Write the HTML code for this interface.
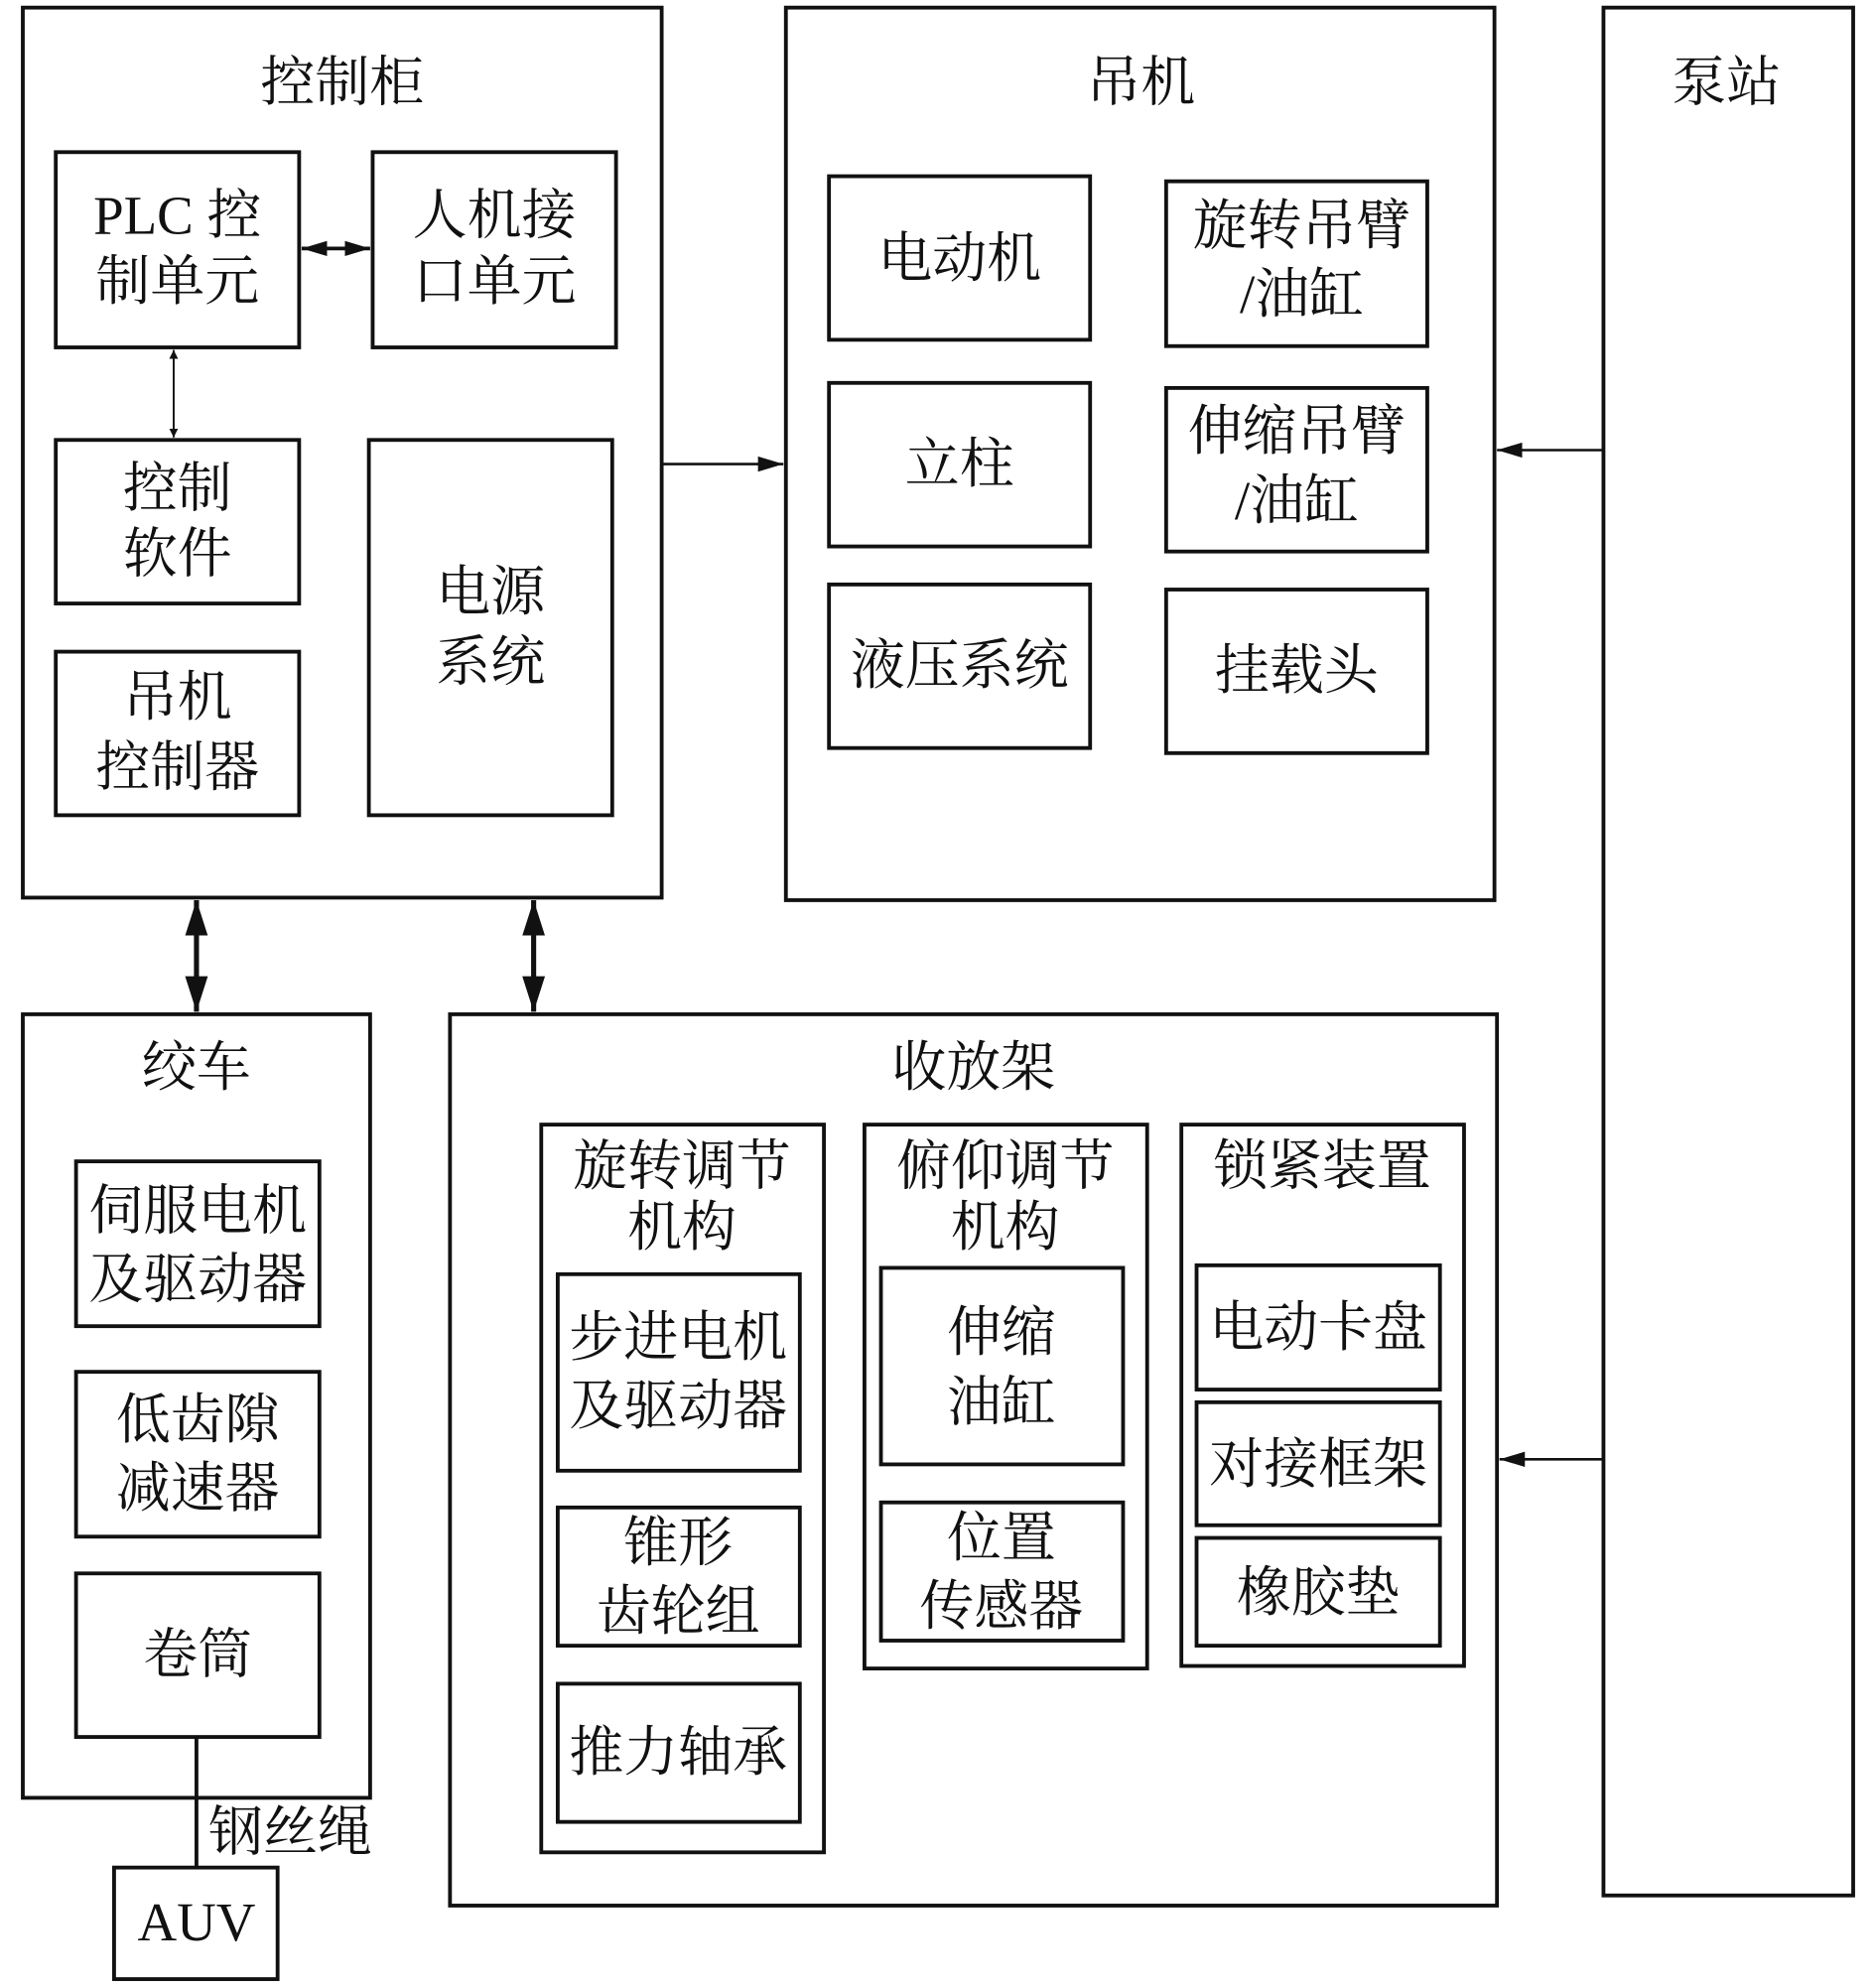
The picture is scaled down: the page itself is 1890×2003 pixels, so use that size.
<!DOCTYPE html>
<html><head><meta charset="utf-8"><style>html,body{margin:0;padding:0;background:#fff}svg{display:block}</style></head>
<body>
<svg width="1890" height="2003" viewBox="0 0 1480 1568" preserveAspectRatio="none" xmlns="http://www.w3.org/2000/svg">
<defs>
<marker id="a" viewBox="0 0 10 10" refX="10" refY="5" markerWidth="7" markerHeight="7" markerUnits="userSpaceOnUse" orient="auto-start-reverse"><path d="M0,0L10,5L0,10z" fill="#111"/></marker>
<marker id="b" viewBox="0 0 10 10" refX="10" refY="5" markerWidth="20" markerHeight="20" orient="auto-start-reverse" markerUnits="userSpaceOnUse"><path d="M0,2L10,5L0,8z" fill="#111"/></marker>
<marker id="c" viewBox="0 0 10 10" refX="10" refY="5" markerWidth="28" markerHeight="28" orient="auto-start-reverse" markerUnits="userSpaceOnUse"><path d="M0,1.8L10,5L0,8.2z" fill="#111"/></marker>
</defs>
<g fill="none" stroke="#111" stroke-width="3">
<rect x="18" y="6" width="504" height="702"/>
<rect x="44" y="120" width="192" height="154"/>
<rect x="294" y="120" width="192" height="154"/>
<rect x="44" y="347" width="192" height="129"/>
<rect x="44" y="514" width="192" height="129"/>
<rect x="291" y="347" width="192" height="296"/>
<rect x="620" y="6" width="559" height="704"/>
<rect x="654" y="139" width="206" height="129"/>
<rect x="654" y="302" width="206" height="129"/>
<rect x="654" y="461" width="206" height="129"/>
<rect x="920" y="143" width="206" height="130"/>
<rect x="920" y="306" width="206" height="129"/>
<rect x="920" y="465" width="206" height="129"/>
<rect x="1265" y="6" width="197" height="1489"/>
<rect x="18" y="800" width="274" height="618"/>
<rect x="60" y="916" width="192" height="130"/>
<rect x="60" y="1082" width="192" height="130"/>
<rect x="60" y="1241" width="192" height="129"/>
<rect x="90" y="1473" width="129" height="88"/>
<rect x="355" y="800" width="826" height="703"/>
<rect x="427" y="887" width="223" height="574"/>
<rect x="440" y="1005" width="191" height="155"/>
<rect x="440" y="1189" width="191" height="109"/>
<rect x="440" y="1328" width="191" height="109"/>
<rect x="682" y="887" width="223" height="429"/>
<rect x="695" y="1000" width="191" height="155"/>
<rect x="695" y="1185" width="191" height="109"/>
<rect x="932" y="887" width="223" height="427"/>
<rect x="944" y="998" width="192" height="98"/>
<rect x="944" y="1106" width="192" height="97"/>
<rect x="944" y="1213" width="192" height="85"/>
<line x1="155" y1="1370" x2="155" y2="1473"/>
</g>
<g stroke="#111" fill="none">
<line x1="238" y1="196" x2="292" y2="196" stroke-width="3" marker-start="url(#b)" marker-end="url(#b)"/>
<line x1="137" y1="276" x2="137" y2="345" stroke-width="1.5" marker-start="url(#a)" marker-end="url(#a)"/>
<line x1="522" y1="366" x2="618" y2="366" stroke-width="2" marker-end="url(#b)"/>
<line x1="1265" y1="355" x2="1181" y2="355" stroke-width="2" marker-end="url(#b)"/>
<line x1="1265" y1="1151" x2="1183" y2="1151" stroke-width="2" marker-end="url(#b)"/>
<line x1="155" y1="710" x2="155" y2="798" stroke-width="4" marker-start="url(#c)" marker-end="url(#c)"/>
<line x1="421" y1="710" x2="421" y2="798" stroke-width="4" marker-start="url(#c)" marker-end="url(#c)"/>
</g>
<g font-family="'Liberation Serif','Noto Serif CJK SC',serif" font-size="43" fill="#111" text-anchor="middle" dominant-baseline="central">
<text x="270" y="65">控制柜</text>
<text x="140" y="170">PLC 控</text><text x="140" y="222">制单元</text>
<text x="390" y="170">人机接</text><text x="390" y="222">口单元</text>
<text x="140" y="385">控制</text><text x="140" y="437">软件</text>
<text x="140" y="550">吊机</text><text x="140" y="605">控制器</text>
<text x="387" y="467">电源</text><text x="387" y="522">系统</text>
<text x="900" y="65">吊机</text>
<text x="757" y="204">电动机</text>
<text x="757" y="366">立柱</text>
<text x="757" y="525">液压系统</text>
<text x="1027" y="178">旋转吊臂</text><text x="1027" y="232">/油缸</text>
<text x="1023" y="340">伸缩吊臂</text><text x="1023" y="395">/油缸</text>
<text x="1023" y="529">挂载头</text>
<text x="1362" y="65">泵站</text>
<text x="155" y="842">绞车</text>
<text x="156" y="955">伺服电机</text><text x="156" y="1009">及驱动器</text>
<text x="156" y="1120">低齿隙</text><text x="156" y="1174">减速器</text>
<text x="156" y="1305">卷筒</text>
<text x="229" y="1445">钢丝绳</text>
<text x="155" y="1516">AUV</text>
<text x="768" y="842">收放架</text>
<text x="538" y="920">旋转调节</text><text x="538" y="968">机构</text>
<text x="535" y="1055">步进电机</text><text x="535" y="1109">及驱动器</text>
<text x="535" y="1217">锥形</text><text x="535" y="1271">齿轮组</text>
<text x="535" y="1382">推力轴承</text>
<text x="793" y="920">俯仰调节</text><text x="793" y="968">机构</text>
<text x="790" y="1051">伸缩</text><text x="790" y="1106">油缸</text>
<text x="790" y="1213">位置</text><text x="790" y="1267">传感器</text>
<text x="1043" y="920">锁紧装置</text>
<text x="1040" y="1047">电动卡盘</text>
<text x="1040" y="1155">对接框架</text>
<text x="1040" y="1256">橡胶垫</text>
</g>
</svg>
</body></html>
